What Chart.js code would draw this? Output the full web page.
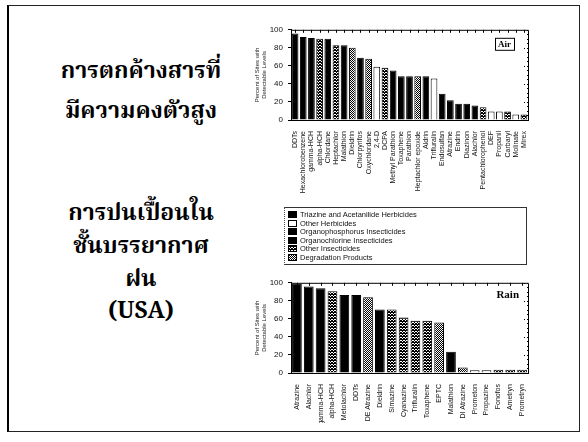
<!DOCTYPE html>
<html>
<head>
<meta charset="utf-8">
<script src="https://cdn.jsdelivr.net/npm/chart.js@4"></script>
<style>
  body { margin: 0; width: 588px; height: 442px; background: #fff; position: relative; overflow: hidden; font-family: "Liberation Sans", Arial, sans-serif; }
  #frame { position: absolute; left: 7px; top: 5px; width: 570px; height: 425px; border: 1px solid #222; border-left: 2px solid #000; }
  .thai { position: absolute; left: 20px; width: 242px; text-align: center; font-family: "Noto Serif Thai", "Noto Sans Thai", "Noto Sans", serif; font-weight: bold; font-size: 23px; color: #000; line-height: 30px; }
  canvas { position: absolute; }
  #legend { position: absolute; left: 284px; top: 207px; width: 243px; height: 58px; border-top: 1px solid #333; border-bottom: 1px solid #333; border-left: 1px dotted #555; border-right: 1px solid #333; padding: 3px 0 0 3px; box-sizing: border-box; }
  .item { font-size: 7.5px; line-height: 8.5px; height: 8.5px; white-space: nowrap; color: #111; }
  .sw { display: inline-block; width: 7px; height: 5px; border: 1px solid #000; margin-right: 3px; vertical-align: -1px; }
</style>
</head>
<body>
<div id="frame"></div>
<div class="thai" style="top:57px">การตกค้างสารที่</div>
<div class="thai" style="top:97px">มีความคงตัวสูง</div>
<div class="thai" style="top:199px">การปนเปื้อนใน</div>
<div class="thai" style="top:232px">ชั้นบรรยากาศ</div>
<div class="thai" style="top:265px">ฝน</div>
<div class="thai" style="top:297px">(USA)</div>

<canvas id="airChart" width="282" height="190" style="left:254px; top:20px"></canvas>
<div id="legend"></div>
<canvas id="rainChart" width="282" height="150" style="left:254px; top:273px"></canvas>

<script>
// Pesticide groups (legend order)
const groupNames = [
    'Triazine and Acetanilide Herbicides',
    'Other Herbicides',
    'Organophosphorus Insecticides',
    'Organochlorine Insecticides',
    'Other Insecticides',
    'Degradation Products'
];

// Air: percent of sites with detectable levels
const airLabels = ['DDTs', 'Hexachlorobenzene', 'gamma-HCH', 'alpha-HCH', 'Chlordane', 'Heptachlor',
    'Malathion', 'Dieldrin', 'Chlorpyrifos', 'Oxychlordane', '2,4-D', 'DCPA', 'Methyl Parathion',
    'Toxaphene', 'Parathion', 'Heptachlor epoxide', 'Aldrin', 'Trifluralin', 'Endosulfan', 'Atrazine',
    'Endrin', 'Diazinon', 'Alachlor', 'Pentachlorophenol', 'DEF', 'Propanil', 'Carbaryl', 'Molinate', 'Mirex'];
const airValues = [96, 92, 91, 90, 90, 83, 83, 80, 69, 68, 59, 58, 55, 48.5, 48.5, 48.5, 48.5, 46,
    29, 22, 18, 18, 16, 14, 9.5, 9.5, 9.5, 6, 6];
const airGroups = [3, 3, 3, 4, 3, 4, 2, 5, 2, 5, 1, 4, 2, 3, 2, 5, 3, 1, 3, 0, 3, 2, 0, 4, 1, 1, 4, 1, 4];

// Rain: percent of sites with detectable levels
const rainLabels = ['Atrazine', 'Alachlor', 'gamma-HCH', 'alpha-HCH', 'Metolachlor', 'DDTs', 'DE Atrazine',
    'Dieldrin', 'Simazine', 'Cyanazine', 'Trifluralin', 'Toxaphene', 'EPTC', 'Malathion', 'DI Atrazine',
    'Prometon', 'Propazine', 'Fonofos', 'Ametryn', 'Prometryn'];
const rainValues = [99, 96, 94, 90.5, 86.5, 86.5, 84, 70.5, 70.5, 61.5, 58, 58, 56, 23.5, 6, 3, 3, 3.5, 3.5, 3.5];
const rainGroups = [0, 0, 3, 4, 0, 3, 5, 3, 4, 4, 4, 4, 5, 2, 5, 1, 1, 4, 4, 4];

const yTicks = [0, 20, 40, 60, 80, 100];


// small stipple tiles for the grey fills
function makeTile(size, dots) {
    const c = document.createElement('canvas');
    c.width = size;
    c.height = size;
    const g = c.getContext('2d');
    g.fillStyle = '#fff';
    g.fillRect(0, 0, size, size);
    g.fillStyle = '#000';
    dots.forEach(([x, y]) => g.fillRect(x, y, 1, 1));
    return c;
}
const checkerTile = makeTile(3, [[0, 0], [1, 1], [2, 2], [2, 0], [0, 2], [1, 0]]);
const dotTile = makeTile(2, [[0, 0], [1, 1]]);

function groupFills(ctx) {
    return ['#000', '#fff', '#000', '#000',
        ctx.createPattern(checkerTile, 'repeat'),
        ctx.createPattern(dotTile, 'repeat')];
}


// Frame round the plot with small ticks on top and right
const framePlugin = {
    id: 'frame',
    afterDraw(chart) {
        const { ctx, chartArea: a, scales } = chart;
        ctx.save();
        ctx.strokeStyle = '#000';
        ctx.lineWidth = 1;
        ctx.beginPath();
        ctx.moveTo(a.left, a.top + 0.5);
        ctx.lineTo(a.right + 0.5, a.top + 0.5);
        ctx.lineTo(a.right + 0.5, a.bottom);
        ctx.stroke();
        ctx.beginPath();
        scales.x.ticks.forEach((t, i) => {
            const x = Math.round(scales.x.getPixelForTick(i)) + 0.5;
            ctx.moveTo(x, a.top);
            ctx.lineTo(x, a.top + 3);
        });
        ctx.stroke();
        ctx.setLineDash([1, 2]);
        ctx.beginPath();
        for (let v = 0; v <= 100; v += 5) {
            const y = Math.round(scales.y.getPixelForValue(v)) + 0.5;
            ctx.moveTo(a.right, y);
            ctx.lineTo(a.right - (v % 20 === 0 ? 4 : 2), y);
        }
        ctx.stroke();
        ctx.restore();
    }
};

// Boxed tag in the top right corner ("Air" / "Rain")
const tagPlugin = {
    id: 'tag',
    afterDraw(chart, args, opts) {
        const { ctx, chartArea: a } = chart;
        ctx.save();
        ctx.font = 'bold ' + opts.size + 'px "Liberation Serif", serif';
        const w = ctx.measureText(opts.text).width + 6;
        const h = opts.size + 3;
        const x = a.right - opts.inset - w;
        const y = a.top + opts.top;
        ctx.fillStyle = '#fff';
        ctx.fillRect(x, y, w, h);
        if (opts.box) {
            ctx.strokeStyle = '#000';
            ctx.strokeRect(x + 0.5, y + 0.5, w, h);
        }
        ctx.fillStyle = '#000';
        ctx.textBaseline = 'middle';
        ctx.fillText(opts.text, x + 3, y + h / 2 + 1);
        ctx.restore();
    }
};


function buildChart(canvasId, labels, values, groups, xHeight, tag) {
    const canvas = document.getElementById(canvasId);
    const ctx = canvas.getContext('2d');
    const fills = groupFills(ctx);

    return new Chart(ctx, {
        type: 'bar',
        data: {
            labels: labels,
            datasets: [{
                data: values,
                backgroundColor: groups.map(g => fills[g]),
                borderColor: '#000',
                borderWidth: 1,
                barPercentage: 0.82,
                categoryPercentage: 1
            }]
        },
        options: {
            responsive: false,
            animation: false,
            layout: { padding: { top: 5, right: 8, left: 0, bottom: 0 } },
            plugins: {
                legend: { display: false },
                tooltip: { enabled: false },
                tag: tag
            },
            scales: {
                x: {
                    grid: { display: false },
                    border: { color: '#000' },
                    ticks: {
                        autoSkip: false,
                        maxRotation: 90,
                        minRotation: 90,
                        padding: 3,
                        color: '#111',
                        font: { size: 7, family: '"Liberation Sans", Arial, sans-serif' }
                    },
                    afterFit: (axis) => { axis.height = xHeight; }
                },
                y: {
                    min: 0,
                    max: 100,
                    afterBuildTicks: (axis) => { axis.ticks = yTicks.map(v => ({ value: v })); },
                    grid: { drawOnChartArea: false, tickLength: 3, color: '#000' },
                    border: { color: '#000' },
                    ticks: {
                        padding: 5,
                        color: '#111',
                        font: { size: 8, family: '"Liberation Sans", Arial, sans-serif' }
                    },
                    title: {
                        display: true,
                        text: ['Percent of Sites with', 'Detectable Levels'],
                        color: '#222',
                        padding: 0,
                        font: { size: 6, family: '"Liberation Sans", Arial, sans-serif' }
                    },
                    afterFit: (axis) => { axis.width = 37; }
                }
            }
        },
        plugins: [framePlugin, tagPlugin]
    });
}

buildChart('airChart', airLabels, airValues, airGroups, 90,
    { text: 'Air', size: 9, inset: 14, top: 8, box: true });
buildChart('rainChart', rainLabels, rainValues, rainGroups, 50,
    { text: 'Rain', size: 11, inset: 6, top: 4, box: false });


// Legend between the two charts
const legend = document.getElementById('legend');
const swatchCss = [
    'background:#000',
    'background:#fff',
    'background:#000',
    'background:#000',
    'background-image:url(' + checkerTile.toDataURL() + ')',
    'background-image:url(' + dotTile.toDataURL() + ')'
];
groupNames.forEach((name, i) => {
    const row = document.createElement('div');
    row.className = 'item';
    row.innerHTML = '<span class="sw" style="' + swatchCss[i] + '"></span>' + name;
    legend.appendChild(row);
});
</script>
</body>
</html>
